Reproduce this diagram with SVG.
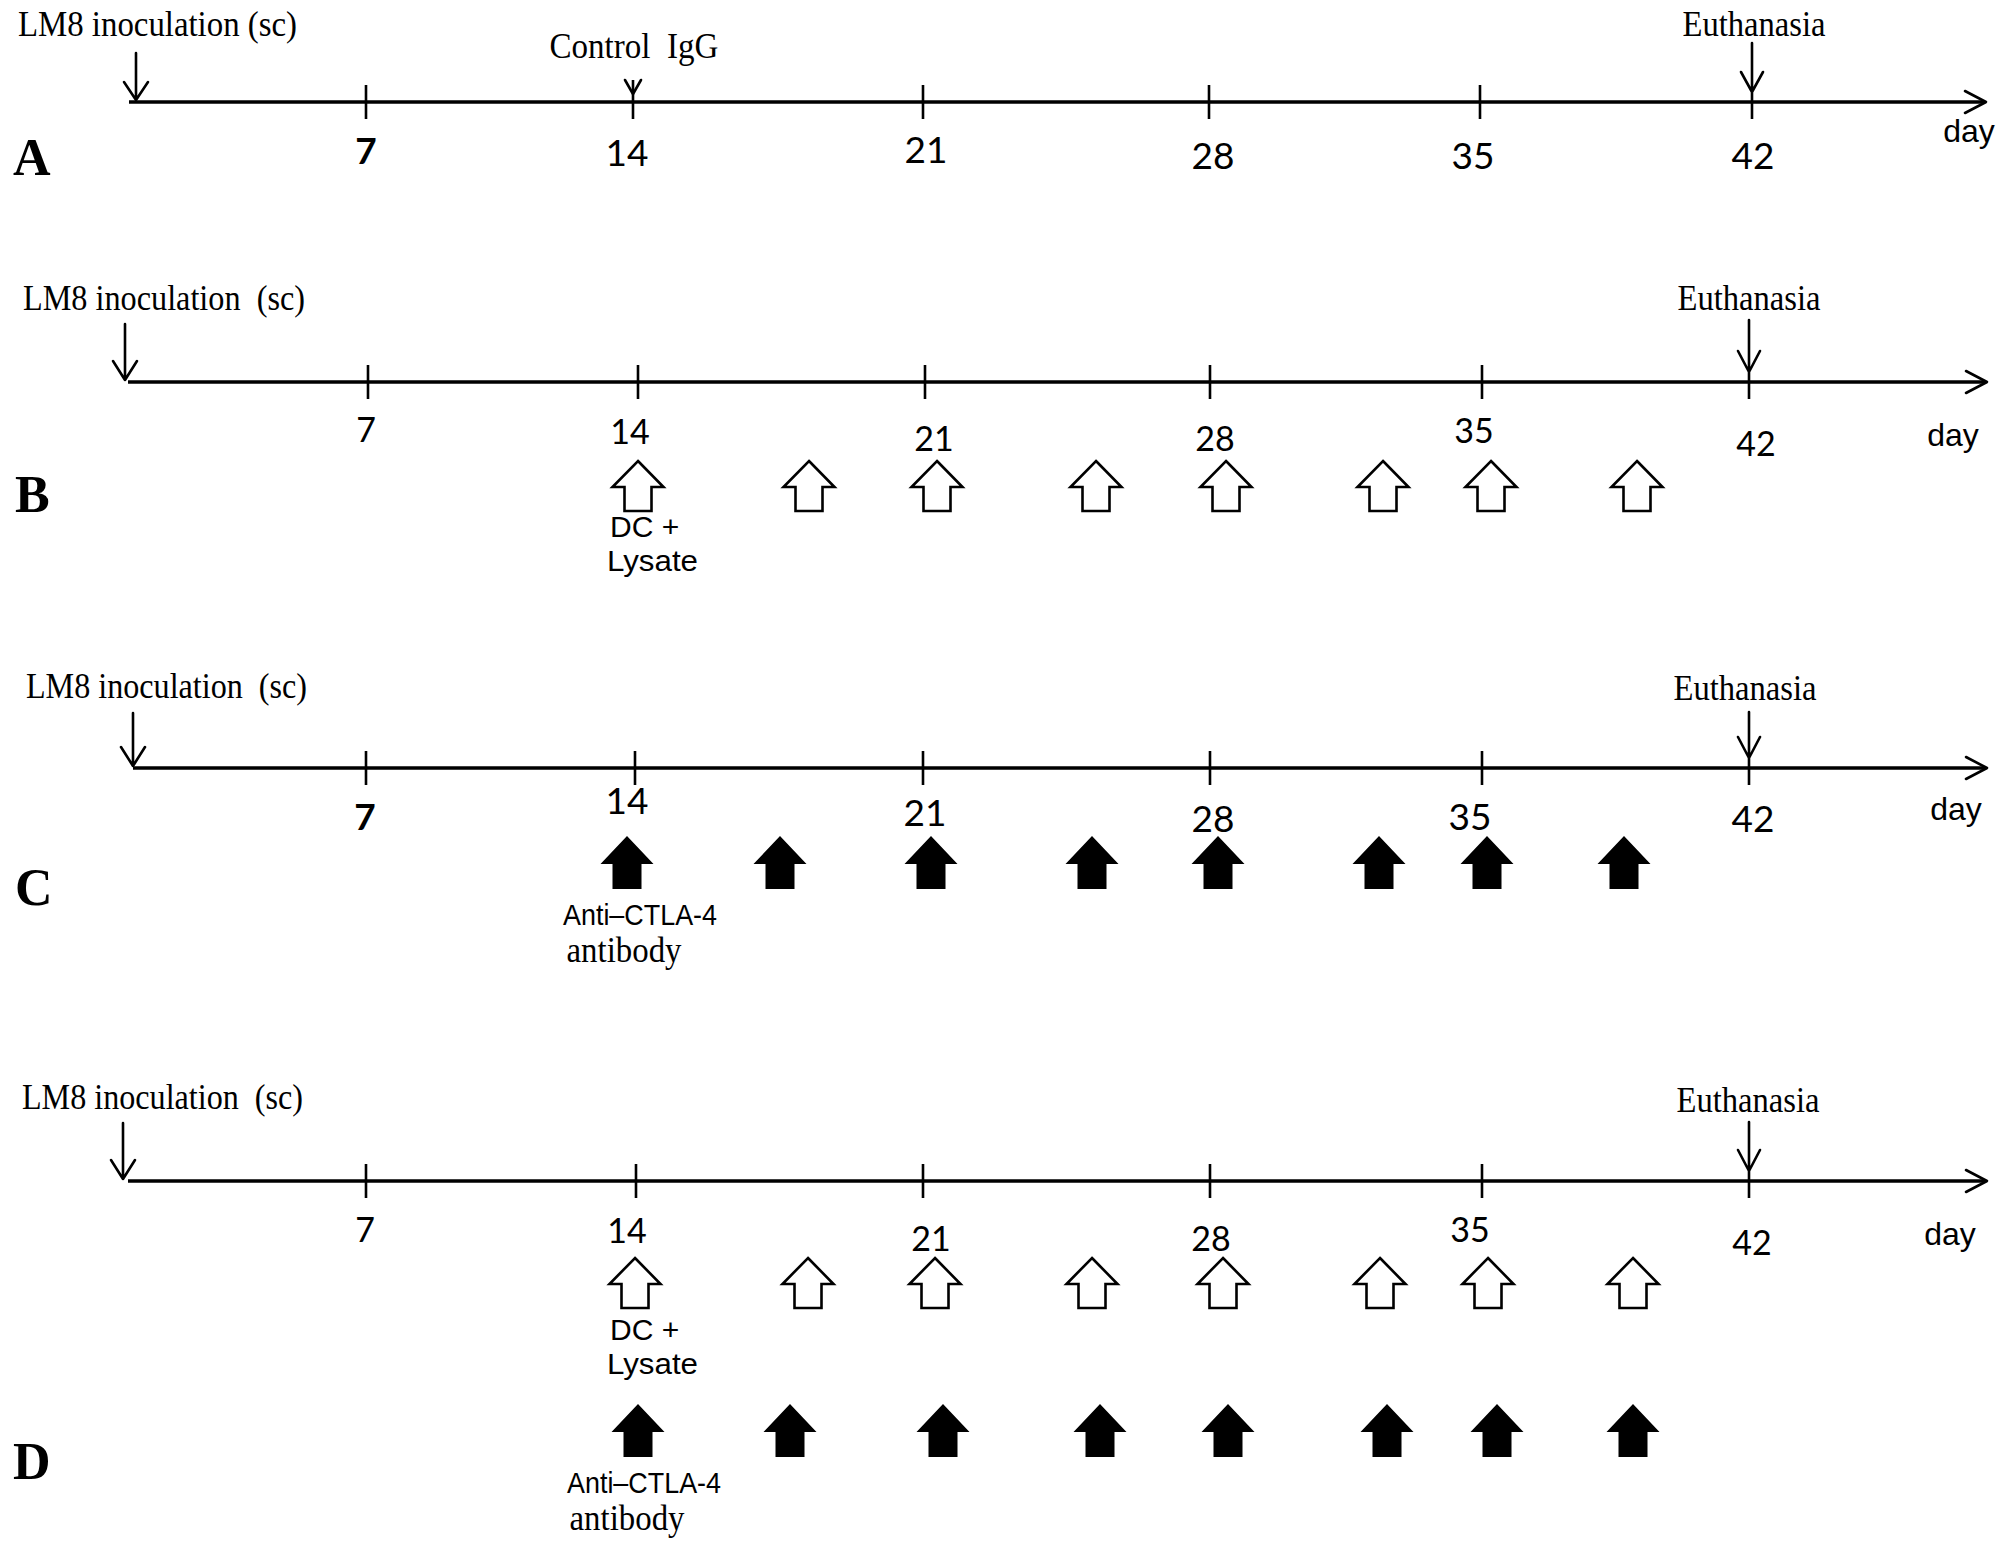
<svg xmlns="http://www.w3.org/2000/svg" xmlns:xlink="http://www.w3.org/1999/xlink" width="2008" height="1545" viewBox="0 0 2008 1545">
<style>
.bg{fill:#ffffff}
.axis{stroke:#000;stroke-width:3.4;fill:none}
.tick{stroke:#000;stroke-width:2.6;fill:none}
.arr{stroke:#000;stroke-width:2.6;fill:none;stroke-linecap:round;stroke-linejoin:round}
.serif{font-family:"Liberation Serif","Times New Roman",serif;font-size:35px;fill:#000}
.panel{font-family:"Liberation Serif","Times New Roman",serif;font-size:52px;font-weight:bold;fill:#000}
.num{font-family:Lato,"Liberation Sans",sans-serif;font-size:34px;fill:#000;text-anchor:middle}
.numA{font-family:Lato,"Liberation Sans",sans-serif;font-size:37px;fill:#000;text-anchor:middle}
.day{font-family:"Liberation Sans",Arial,sans-serif;font-size:32px;fill:#000;text-anchor:middle}
.lab{font-family:"Liberation Sans",Arial,sans-serif;font-size:30px;fill:#000}
.mid{text-anchor:middle}
.open{fill:#fff;stroke:#000;stroke-width:2.6;stroke-linejoin:miter}
.solid{fill:#000;stroke:none}
</style>
<defs>
<polygon id="openArrow" class="open" points="0,0 25.5,26 13.5,26 13.5,50 -13.5,50 -13.5,26 -25.5,26"/>
<polygon id="solidArrow" class="solid" points="0,0 26.5,28 14.5,28 14.5,53 -14.5,53 -14.5,28 -26.5,28"/>
</defs>
<rect class="bg" x="0" y="0" width="2008" height="1545"/>

<g id="panel-A">
  <text class="panel" x="13" y="175">A</text>
  <g id="A-start"><text class="serif" x="18" y="36" textLength="279" lengthAdjust="spacingAndGlyphs">LM8 inoculation (sc)</text></g>
  <g id="A-igg"><text class="serif mid" x="634" y="58" textLength="169" lengthAdjust="spacingAndGlyphs">Control&#160; IgG</text></g>
  <g id="A-euth"><text class="serif mid" x="1754" y="36" textLength="143" lengthAdjust="spacingAndGlyphs">Euthanasia</text></g>
  <g id="A-days">
    <text class="numA" x="366" y="164" font-weight="bold">7</text>
    <text class="numA" x="627" y="166">14</text>
    <text class="numA" x="926" y="163">21</text>
    <text class="numA" x="1213" y="169">28</text>
    <text class="numA" x="1473" y="169">35</text>
    <text class="numA" x="1753" y="169">42</text>
    <text class="day" x="1969" y="142">day</text>
  </g>
</g>

<g id="panel-B">
  <text class="panel" x="15" y="512">B</text>
  <g id="B-start"><text class="serif" x="23" y="310" textLength="282" lengthAdjust="spacingAndGlyphs">LM8 inoculation&#160; (sc)</text></g>
  <g id="B-euth"><text class="serif mid" x="1749" y="310" textLength="143" lengthAdjust="spacingAndGlyphs">Euthanasia</text></g>
  <g id="B-days">
    <text class="num" x="366" y="442">7</text>
    <text class="num" x="630" y="444">14</text>
    <text class="num" x="934" y="451">21</text>
    <text class="num" x="1215" y="451">28</text>
    <text class="num" x="1474" y="443">35</text>
    <text class="num" x="1756" y="456">42</text>
    <text class="day" x="1953" y="446" font-size="29">day</text>
  </g>
  <g id="B-dc">
    <use xlink:href="#openArrow" x="638" y="461"/>
    <use xlink:href="#openArrow" x="809" y="461"/>
    <use xlink:href="#openArrow" x="937" y="461"/>
    <use xlink:href="#openArrow" x="1096" y="461"/>
    <use xlink:href="#openArrow" x="1226" y="461"/>
    <use xlink:href="#openArrow" x="1383" y="461"/>
    <use xlink:href="#openArrow" x="1491" y="461"/>
    <use xlink:href="#openArrow" x="1637" y="461"/>
    <text class="lab" x="610" y="537">DC +</text>
    <text class="lab" x="607" y="571" textLength="91" lengthAdjust="spacingAndGlyphs">Lysate</text>
  </g>
</g>

<g id="panel-C">
  <text class="panel" x="15" y="905">C</text>
  <g id="C-start"><text class="serif" x="26" y="698" textLength="281" lengthAdjust="spacingAndGlyphs">LM8 inoculation&#160; (sc)</text></g>
  <g id="C-euth"><text class="serif mid" x="1745" y="700" textLength="143" lengthAdjust="spacingAndGlyphs">Euthanasia</text></g>
  <g id="C-days">
    <text class="numA" x="365" y="830" font-weight="bold">7</text>
    <text class="numA" x="627" y="814">14</text>
    <text class="numA" x="925" y="826">21</text>
    <text class="numA" x="1213" y="832">28</text>
    <text class="numA" x="1470" y="830">35</text>
    <text class="numA" x="1753" y="832">42</text>
    <text class="day" x="1956" y="820" font-size="34">day</text>
  </g>
  <g id="C-ctla4">
    <use xlink:href="#solidArrow" x="627" y="836"/>
    <use xlink:href="#solidArrow" x="780" y="836"/>
    <use xlink:href="#solidArrow" x="931" y="836"/>
    <use xlink:href="#solidArrow" x="1092" y="836"/>
    <use xlink:href="#solidArrow" x="1218" y="836"/>
    <use xlink:href="#solidArrow" x="1379" y="836"/>
    <use xlink:href="#solidArrow" x="1487" y="836"/>
    <use xlink:href="#solidArrow" x="1624" y="836"/>
    <text class="lab mid" x="640" y="925" font-size="27" textLength="154" lengthAdjust="spacingAndGlyphs">Anti–CTLA-4</text>
    <text class="serif mid" x="624" y="962" font-size="29" textLength="115" lengthAdjust="spacingAndGlyphs">antibody</text>
  </g>
</g>

<g id="panel-D">
  <text class="panel" x="13" y="1479">D</text>
  <g id="D-start"><text class="serif" x="22" y="1109" textLength="281" lengthAdjust="spacingAndGlyphs">LM8 inoculation&#160; (sc)</text></g>
  <g id="D-euth"><text class="serif mid" x="1748" y="1112" textLength="143" lengthAdjust="spacingAndGlyphs">Euthanasia</text></g>
  <g id="D-days">
    <text class="num" x="365" y="1242">7</text>
    <text class="num" x="627" y="1243">14</text>
    <text class="num" x="931" y="1251">21</text>
    <text class="num" x="1211" y="1251">28</text>
    <text class="num" x="1470" y="1242">35</text>
    <text class="num" x="1752" y="1255">42</text>
    <text class="day" x="1950" y="1245" font-size="29">day</text>
  </g>
  <g id="D-dc">
    <use xlink:href="#openArrow" x="635" y="1258"/>
    <use xlink:href="#openArrow" x="808" y="1258"/>
    <use xlink:href="#openArrow" x="935" y="1258"/>
    <use xlink:href="#openArrow" x="1092" y="1258"/>
    <use xlink:href="#openArrow" x="1223" y="1258"/>
    <use xlink:href="#openArrow" x="1380" y="1258"/>
    <use xlink:href="#openArrow" x="1488" y="1258"/>
    <use xlink:href="#openArrow" x="1633" y="1258"/>
    <text class="lab" x="610" y="1340">DC +</text>
    <text class="lab" x="607" y="1374" textLength="91" lengthAdjust="spacingAndGlyphs">Lysate</text>
  </g>
  <g id="D-ctla4">
    <use xlink:href="#solidArrow" x="638" y="1404"/>
    <use xlink:href="#solidArrow" x="790" y="1404"/>
    <use xlink:href="#solidArrow" x="943" y="1404"/>
    <use xlink:href="#solidArrow" x="1100" y="1404"/>
    <use xlink:href="#solidArrow" x="1228" y="1404"/>
    <use xlink:href="#solidArrow" x="1387" y="1404"/>
    <use xlink:href="#solidArrow" x="1497" y="1404"/>
    <use xlink:href="#solidArrow" x="1633" y="1404"/>
    <text class="lab mid" x="644" y="1493" font-size="27" textLength="154" lengthAdjust="spacingAndGlyphs">Anti–CTLA-4</text>
    <text class="serif mid" x="627" y="1530" font-size="29" textLength="115" lengthAdjust="spacingAndGlyphs">antibody</text>
  </g>
</g>

<g id="connectors">
  <!-- Panel A timeline -->
  <path class="axis" d="M129,102 H1985"/>
  <path class="arr" d="M1965,91 L1986,102 L1965,113"/>
  <path class="tick" d="M366,85 V119 M923,85 V119 M1209,85 V119 M1480,85 V119 M633,80 V119 M1752,102 V119"/>
  <path class="arr" d="M136,53 V100 M124,82 L136,100 L148,82"/>
  <path class="arr" d="M625,80 L633,94 L641,80"/>
  <path class="arr" d="M1752,43 V102 M1741,72 L1752,92 L1763,72"/>
  <!-- Panel B timeline -->
  <path class="axis" d="M128,382 H1986"/>
  <path class="arr" d="M1966,371 L1987,382 L1966,393"/>
  <path class="tick" d="M368,365 V399 M638,365 V399 M925,365 V399 M1210,365 V399 M1482,365 V399 M1749,382 V399"/>
  <path class="arr" d="M125,324 V380 M113,361 L125,380 L137,361"/>
  <path class="arr" d="M1749,320 V382 M1738,351 L1749,372 L1760,351"/>
  <!-- Panel C timeline -->
  <path class="axis" d="M133,768 H1986"/>
  <path class="arr" d="M1966,757 L1987,768 L1966,779"/>
  <path class="tick" d="M366,751 V785 M635,751 V785 M923,751 V785 M1210,751 V785 M1482,751 V785 M1749,768 V785"/>
  <path class="arr" d="M133,713 V766 M121,747 L133,766 L145,747"/>
  <path class="arr" d="M1749,712 V768 M1738,737 L1749,758 L1760,737"/>
  <!-- Panel D timeline -->
  <path class="axis" d="M128,1181 H1986"/>
  <path class="arr" d="M1966,1170 L1987,1181 L1966,1192"/>
  <path class="tick" d="M366,1164 V1198 M636,1164 V1198 M923,1164 V1198 M1210,1164 V1198 M1482,1164 V1198 M1749,1181 V1198"/>
  <path class="arr" d="M123,1123 V1179 M111,1160 L123,1179 L135,1160"/>
  <path class="arr" d="M1749,1122 V1181 M1738,1150 L1749,1171 L1760,1150"/>
</g>
</svg>
